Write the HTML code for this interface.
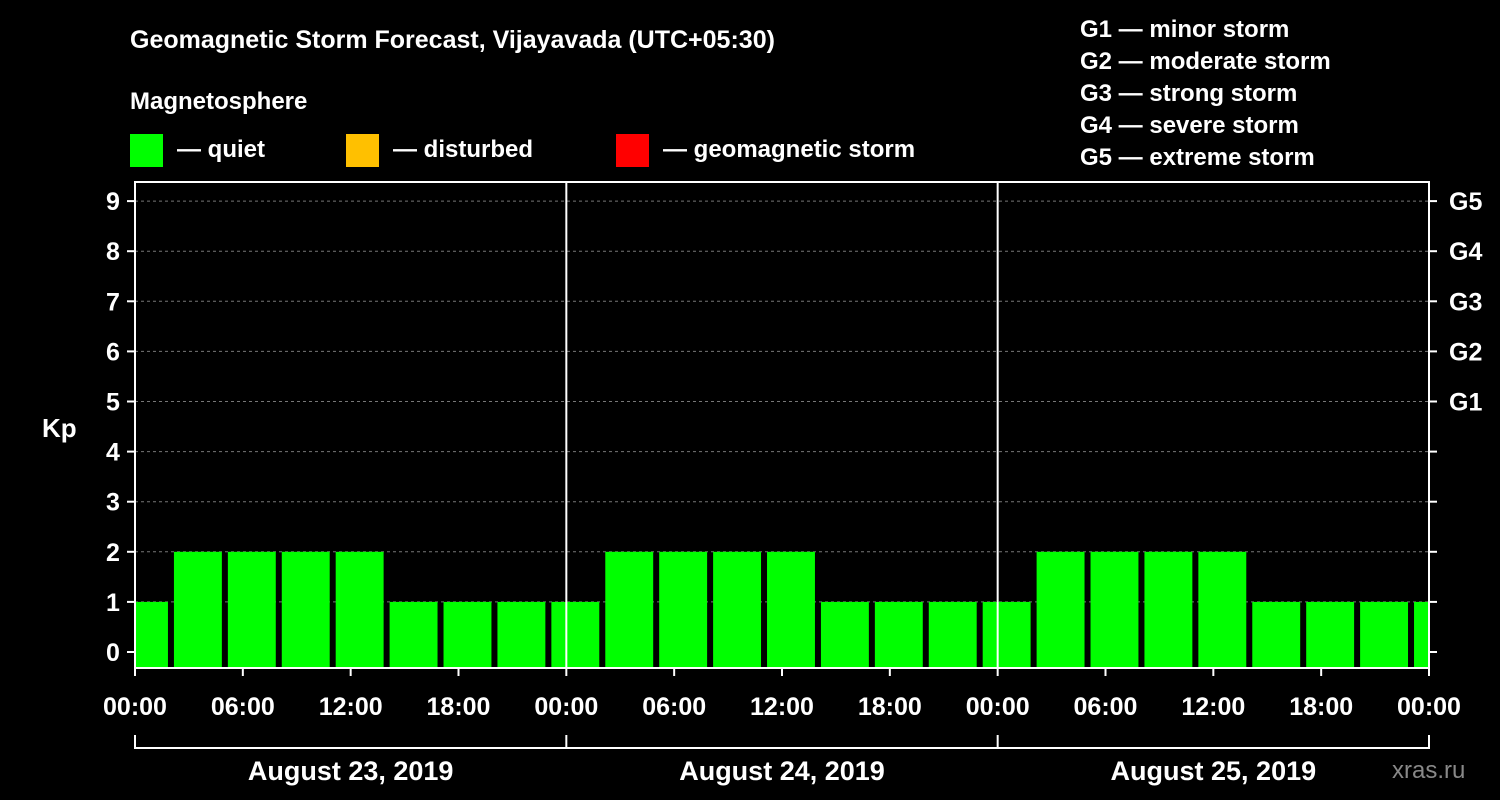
<!DOCTYPE html>
<html><head><meta charset="utf-8"><style>
html,body{margin:0;padding:0;background:#000;}
svg{display:block;font-family:"Liberation Sans",Arial,sans-serif;font-weight:bold;}
</style></head><body>
<svg id="chart" width="1500" height="800" viewBox="0 0 1500 800" xmlns="http://www.w3.org/2000/svg">
<rect width="1500" height="800" fill="#000"/>
<text x="130" y="48" fill="#fff" font-size="25">Geomagnetic Storm Forecast, Vijayavada (UTC+05:30)</text>
<text x="130" y="109" fill="#fff" font-size="24">Magnetosphere</text>
<g><rect x="130" y="134" width="33" height="33" fill="#00ff00"/><text x="177" y="157" fill="#fff" font-size="24">— quiet</text></g>
<g><rect x="346" y="134" width="33" height="33" fill="#ffc000"/><text x="393" y="157" fill="#fff" font-size="24">— disturbed</text></g>
<g><rect x="616" y="134" width="33" height="33" fill="#ff0000"/><text x="663" y="157" fill="#fff" font-size="24">— geomagnetic storm</text></g>
<g fill="#fff" font-size="24">
<text x="1080" y="37">G1 — minor storm</text>
<text x="1080" y="69">G2 — moderate storm</text>
<text x="1080" y="101">G3 — strong storm</text>
<text x="1080" y="133">G4 — severe storm</text>
<text x="1080" y="165">G5 — extreme storm</text>
</g>
<g id="grid"></g>
<g id="bars"></g>
<rect x="135" y="182" width="1294" height="486" fill="none" stroke="#fff" stroke-width="2"/>
<g id="axes"></g>
<text x="42" y="437" fill="#fff" font-size="26">Kp</text>
<text x="1392" y="778" fill="#888" font-size="24" font-weight="normal">xras.ru</text>
</svg>
<script>
const kpValues=[1,2,2,2,2,1,1,1,1,2,2,2,2,1,1,1,1,2,2,2,2,1,1,1,1];
const yTicks=[0,1,2,3,4,5,6,7,8,9];
const gLabels=["G1","G2","G3","G4","G5"];
const gLevels=[5,6,7,8,9];
const xTickLabels=["00:00","06:00","12:00","18:00","00:00","06:00","12:00","18:00","00:00","06:00","12:00","18:00","00:00"];
const dayLabels=["August 23, 2019","August 24, 2019","August 25, 2019"];
const NS="http://www.w3.org/2000/svg";
const X0=135,X1=1429,PX_H=(X1-X0)/72;
const y=v=>652-v*50.1;
const x=h=>X0+h*PX_H;
function mk(t,a,p){const e=document.createElementNS(NS,t);for(const k in a)e.setAttribute(k,a[k]);p.appendChild(e);return e;}
const grid=document.getElementById('grid'),bars=document.getElementById('bars'),axes=document.getElementById('axes');
yTicks.forEach(v=>{
 if(v>0){const l=mk('line',{x1:X0,x2:X1,y1:y(v),y2:y(v),stroke:'#777','stroke-dasharray':'3,3'},grid);
 
 }
 const t=mk('line',{x1:127,x2:135,y1:y(v),y2:y(v),stroke:'#fff','stroke-width':2},axes);
 
 
 const r=mk('line',{x1:1429,x2:1437,y1:y(v),y2:y(v),stroke:'#fff','stroke-width':2},axes);
 
 
 const tx=mk('text',{x:113,y:y(v)+9,fill:'#fff','font-size':25,'text-anchor':'middle'},axes);
 tx.textContent=v;
 
 
});
gLabels.forEach((g,i)=>{
 const tx=mk('text',{x:1449,y:y(gLevels[i])+9,fill:'#fff','font-size':25},axes);
 tx.textContent=g;
 
 
});
// bars: 3-hour intervals, first partial, boundaries offset at 2:00
kpValues.forEach((v,i)=>{
 let h0=i===0?0:2+3*(i-1), h1=2+3*i;
 let a=x(h0)+(i===0?1:3), b=Math.min(x(h1)-3,X1-1);
 const r=mk('rect',{x:a,y:y(v),width:b-a,height:668-y(v),fill:'#00ff00'},bars);
 
 
});
[1,2].forEach(d=>{
 const l=mk('line',{x1:x(24*d),x2:x(24*d),y1:182,y2:668,stroke:'#fff','stroke-width':2},axes);
 
 
});
xTickLabels.forEach((s,i)=>{
 const t=mk('line',{x1:x(6*i),x2:x(6*i),y1:668,y2:676,stroke:'#fff','stroke-width':2},axes);
 
 
 const tx=mk('text',{x:x(6*i),y:715,fill:'#fff','font-size':25,'text-anchor':'middle'},axes);
 tx.textContent=s;
 
 
});
const br=mk('line',{x1:X0,x2:X1,y1:748,y2:748,stroke:'#fff','stroke-width':2},axes);


[0,1,2,3].forEach(d=>{
 const l=mk('line',{x1:x(24*d),x2:x(24*d),y1:735,y2:749,stroke:'#fff','stroke-width':2},axes);
 
 
});
dayLabels.forEach((s,i)=>{
 const tx=mk('text',{x:x(24*i+12),y:780,fill:'#fff','font-size':27,'text-anchor':'middle'},axes);
 tx.textContent=s;
 
 
});
</script>
</body></html>
